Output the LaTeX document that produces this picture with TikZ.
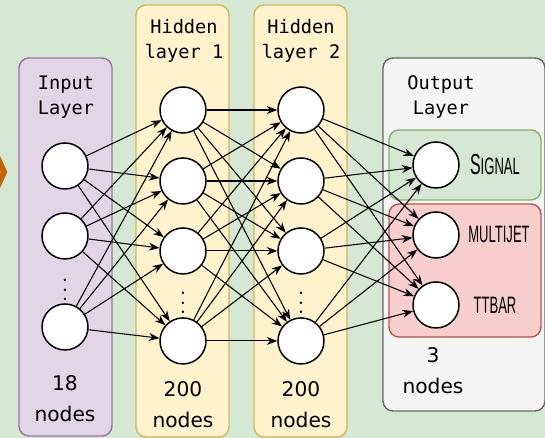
\documentclass[tikz,border=0pt]{standalone}
\usepackage{graphicx}
\usepackage{fontspec}
\setmonofont{DejaVu Sans Mono}
\newfontfamily\sketchfont{DejaVu Sans}
\newfontfamily\tagfont{Liberation Sans}
\usetikzlibrary{arrows.meta, positioning}

\definecolor{bggreen}{HTML}{D5E8D4}
\definecolor{inputfill}{HTML}{E1D5E7}
\definecolor{inputline}{HTML}{9673A6}
\definecolor{hiddenfill}{HTML}{FFF2CC}
\definecolor{hiddenline}{HTML}{D6B656}
\definecolor{outfill}{HTML}{F5F5F5}
\definecolor{outline}{HTML}{666666}
\definecolor{sigline}{HTML}{82B366}
\definecolor{bkgfill}{HTML}{F8CECC}
\definecolor{bkgline}{HTML}{B85450}
\definecolor{chevron}{HTML}{C46408}

\tikzstyle{panel} = [rounded corners=0.2cm, line width=0.8pt]
\tikzstyle{neuron} = [circle, draw, fill=white, minimum size=0.92cm, inner sep=0pt, line width=0.85pt]
\tikzstyle{arrow} = [line width=0.6pt, -{Stealth[length=6pt,width=4.5pt]}]
\tikzstyle{title} = [font=\ttfamily\fontsize{10.6}{14.2}\selectfont, align=center]
\tikzstyle{count} = [font=\sketchfont\fontsize{11.5}{17.5}\selectfont, align=center]
\tikzstyle{tag} = [font=\tagfont\fontsize{13.5}{14}\selectfont, inner sep=0pt]
\tikzstyle{dots} = [inner sep=0pt]

\newcommand{\squeeze}[1]{\scalebox{0.55}[1]{#1}}

\begin{document}
\begin{tikzpicture}[x=0.02cm, y=-0.02cm, node distance=1.4cm]
  \useasboundingbox (0,0) rectangle (545,438);
  \clip (0,0) rectangle (545,438);
  % Background and layer panels
  \fill[bggreen] (0,0) rectangle (545,438);
  \draw[chevron, line width=3.4pt] (-6,150) -- (4,172) -- (-6,194);
  \filldraw[panel, fill=inputfill, draw=inputline] (19,58) rectangle (112,436);
  \filldraw[panel, fill=hiddenfill, draw=hiddenline] (136,5) rectangle (229,437);
  \filldraw[panel, fill=hiddenfill, draw=hiddenline] (254,5) rectangle (347,437);
  \filldraw[panel, fill=outfill, draw=outline] (383,58) rectangle (545,411);
  \filldraw[panel, fill=bggreen, draw=sigline] (389,130) rectangle (541,200);
  \filldraw[panel, fill=bkgfill, draw=bkgline] (389,204) rectangle (541,337);

  % Titles
  \node [title] (tin) at (66,97) {Input\\Layer};
  \node [title] (th1) at (184,41) {Hidden\\layer 1};
  \node [title] (th2) at (301,41) {Hidden\\layer 2};
  \node [title] (tout) at (441,97) {Output\\Layer};

  % Neurons
  \node [neuron] (in1) at (65,166) {};
  \node [neuron, below of=in1] (in2) {};
  \node [neuron, below of=in2, node distance=1.82cm] (in3) {};
  \node [dots] (din) at (65,283) {\scalebox{1.3}{$\vdots$}};

  \node [neuron] (a1) at (183,110) {};
  \node [neuron, below of=a1, node distance=1.42cm] (a2) {};
  \node [neuron, below of=a2] (a3) {};
  \node [neuron, below of=a3, node distance=1.8cm] (a4) {};
  \node [dots] (da) at (183,296) {\scalebox{1.3}{$\vdots$}};

  \node [neuron] (b1) at (301,110) {};
  \node [neuron, below of=b1, node distance=1.42cm] (b2) {};
  \node [neuron, below of=b2] (b3) {};
  \node [neuron, below of=b3, node distance=1.8cm] (b4) {};
  \node [dots] (db) at (301,296) {\scalebox{1.3}{$\vdots$}};

  \node [neuron] (o1) at (436,165) {};
  \node [neuron, below of=o1] (o2) {};
  \node [neuron, below of=o2] (o3) {};

  % Output classes
  \node [tag] (sig) at (495,165) {\squeeze{{\fontsize{16.5}{17}\selectfont S}IGNAL}};
  \node [tag] (mj) at (499,234) {\squeeze{MULTIJET}};
  \node [tag] (tt) at (495,305) {\squeeze{TTBAR}};

  % Layer sizes
  \node [count] (nin) at (65,399) {18\\nodes};
  \node [count] (na) at (183,405) {200\\nodes};
  \node [count] (nb) at (301,405) {200\\nodes};
  \node [count] (nout) at (433,371) {3\\nodes};

  % Connections
  \foreach \i in {1,2,3}
    \foreach \j in {1,2,3,4}
      \draw [arrow] (in\i) -- (a\j);
  \foreach \i in {1,2,3,4}
    \foreach \j in {1,2,3,4}
      \draw [arrow] (a\i) -- (b\j);
  \foreach \i in {1,2,3,4}
    \foreach \j in {1,2,3}
      \draw [arrow] (b\i) -- (o\j);
\end{tikzpicture}
\end{document}
